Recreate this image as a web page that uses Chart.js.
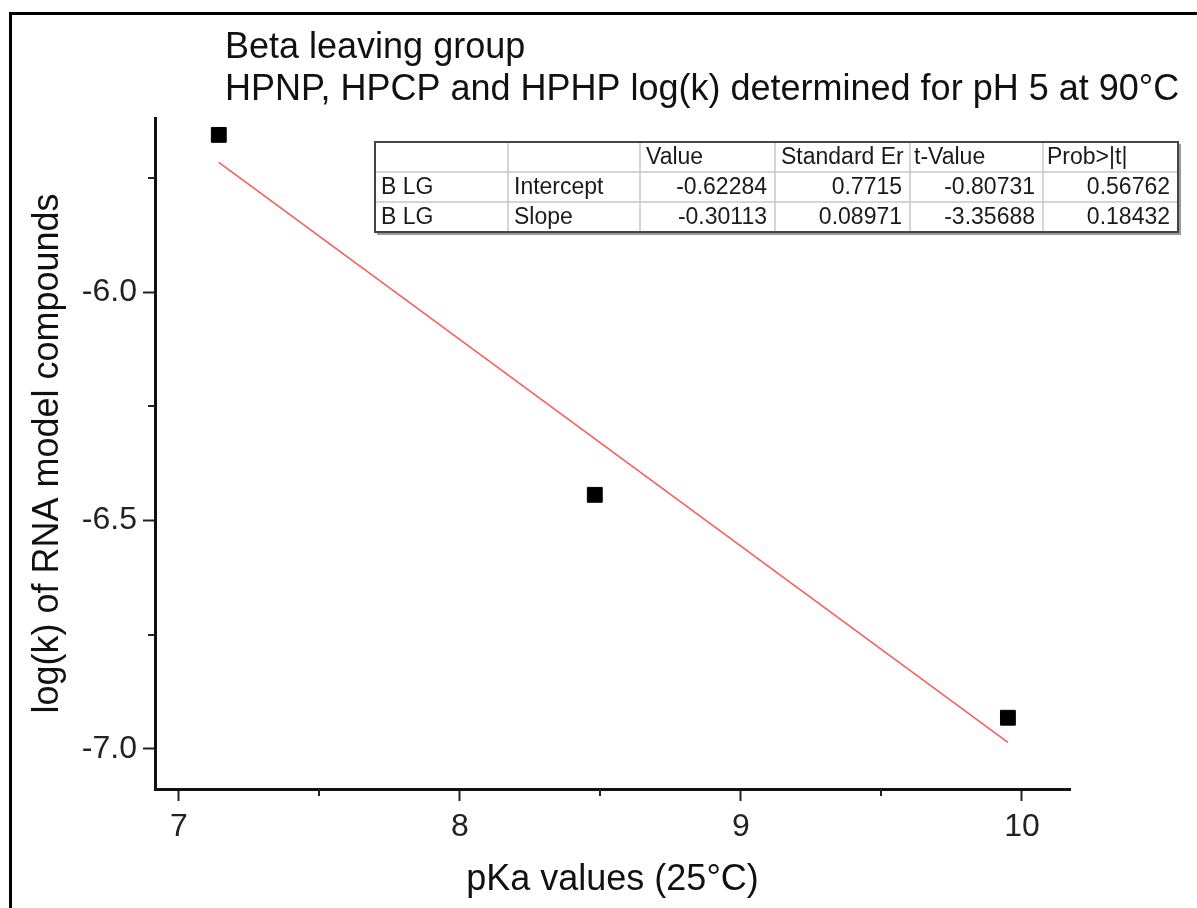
<!DOCTYPE html>
<html>
<head>
<meta charset="utf-8">
<title>Beta leaving group</title>
<script src="https://cdn.jsdelivr.net/npm/chart.js@4/dist/chart.umd.min.js"></script>
<style>
  html, body { margin: 0; padding: 0; background: #fff; }
  #wrap { position: relative; width: 1197px; height: 908px; overflow: hidden; }
  canvas { display: block; }
</style>
</head>
<body>
<div id="wrap"><canvas id="chart" width="1197" height="908"></canvas></div>
<script>
// Measured compounds: leaving-group pKa (25 °C) and log(k) at pH 5, 90 °C
const pkaValues = [7.142, 8.480, 9.950];
const logKValues = [-5.656, -6.444, -6.932];

// Linear fit line end points
const fitPka = [7.142, 9.950];
const fitLogK = [-5.716, -6.986];

// Axis ticks
const xTicks = [7, 8, 9, 10];
const xMinorTicks = [7.5, 8.5, 9.5];
const yTicks = [-7.0, -6.5, -6.0];
const yMinorTicks = [-6.75, -6.25, -5.75];

// Fit parameter table
const tableHeader = ['', '', 'Value', 'Standard Er', 't-Value', 'Prob>|t|'];
const tableRowIntercept = ['B LG', 'Intercept', '-0.62284', '0.7715', '-0.80731', '0.56762'];
const tableRowSlope = ['B LG', 'Slope', '-0.30113', '0.08971', '-3.35688', '0.18432'];

const titleLines = ['Beta leaving group', 'HPNP, HPCP and HPHP log(k) determined for pH 5 at 90°C'];
const xTitle = 'pKa values (25°C)';
const yTitle = 'log(k) of RNA model compounds';

const FONT = '"Liberation Sans", Arial, Helvetica, sans-serif';

const points = pkaValues.map((x, i) => ({ x, y: logKValues[i] }));
const fitPoints = fitPka.map((x, i) => ({ x, y: fitLogK[i] }));

// Page frame, titles, minor ticks and the statistics table
const decorations = {
  id: 'decorations',
  afterDraw(chart) {
    const ctx = chart.ctx;
    const xs = chart.scales.x, ys = chart.scales.y;
    const area = chart.chartArea;
    ctx.save();

    // frame around the figure
    ctx.strokeStyle = '#000';
    ctx.lineWidth = 3;
    ctx.beginPath();
    ctx.moveTo(10.5, 908);
    ctx.lineTo(10.5, 13.5);
    ctx.lineTo(1197, 13.5);
    ctx.stroke();

    // chart title
    ctx.fillStyle = '#111';
    ctx.font = '36px ' + FONT;
    ctx.textAlign = 'left';
    ctx.textBaseline = 'alphabetic';
    ctx.fillText(titleLines[0], 225, 58);
    ctx.fillText(titleLines[1], 225, 100);

    // axis titles
    ctx.textAlign = 'center';
    ctx.textBaseline = 'middle';
    ctx.fillText(xTitle, (area.left + area.right) / 2, 880);
    ctx.save();
    ctx.translate(48, (area.top + area.bottom) / 2);
    ctx.rotate(-Math.PI / 2);
    ctx.fillText(yTitle, 0, 0);
    ctx.restore();

    // minor ticks
    ctx.strokeStyle = '#222';
    ctx.lineWidth = 2;
    ctx.beginPath();
    xMinorTicks.forEach(v => {
      const px = Math.round(xs.getPixelForValue(v));
      ctx.moveTo(px, area.bottom);
      ctx.lineTo(px, area.bottom + 7);
    });
    yMinorTicks.forEach(v => {
      const py = Math.round(ys.getPixelForValue(v));
      ctx.moveTo(area.left, py);
      ctx.lineTo(area.left - 7, py);
    });
    ctx.stroke();

    // statistics table
    const cols = [375, 508, 640, 775, 910, 1043, 1178];
    const rowsY = [142, 172, 202, 232];
    const rows = [tableHeader, tableRowIntercept, tableRowSlope];
    ctx.fillStyle = '#fff';
    ctx.fillRect(cols[0], rowsY[0], cols[6] - cols[0], rowsY[3] - rowsY[0]);

    // inner grid
    ctx.strokeStyle = '#c8c8c8';
    ctx.lineWidth = 1.5;
    ctx.beginPath();
    for (let c = 1; c < cols.length - 1; c++) {
      ctx.moveTo(cols[c], rowsY[0]);
      ctx.lineTo(cols[c], rowsY[3]);
    }
    for (let r = 1; r < rowsY.length - 1; r++) {
      ctx.moveTo(cols[0], rowsY[r]);
      ctx.lineTo(cols[6], rowsY[r]);
    }
    ctx.stroke();

    // shadow and outer border
    ctx.strokeStyle = '#9a9a9a';
    ctx.lineWidth = 2;
    ctx.beginPath();
    ctx.moveTo(cols[0] + 2, rowsY[3] + 2);
    ctx.lineTo(cols[6] + 2, rowsY[3] + 2);
    ctx.lineTo(cols[6] + 2, rowsY[0] + 2);
    ctx.stroke();
    ctx.strokeStyle = '#444';
    ctx.lineWidth = 2;
    ctx.strokeRect(cols[0], rowsY[0], cols[6] - cols[0], rowsY[3] - rowsY[0]);

    ctx.font = '23px ' + FONT;
    ctx.fillStyle = '#1a1a1a';
    ctx.textBaseline = 'middle';
    rows.forEach((row, r) => {
      const cy = (rowsY[r] + rowsY[r + 1]) / 2 + 1;
      row.forEach((txt, c) => {
        if (!txt) return;
        ctx.save();
        ctx.beginPath();
        ctx.rect(cols[c] + 1, rowsY[r], cols[c + 1] - cols[c] - 2, rowsY[r + 1] - rowsY[r]);
        ctx.clip();
        if (r === 0 || c < 2) {
          ctx.textAlign = 'left';
          ctx.fillText(txt, cols[c] + (c >= 4 ? 4 : 6), cy);
        } else {
          ctx.textAlign = 'right';
          ctx.fillText(txt, cols[c + 1] - 8, cy);
        }
        ctx.restore();
      });
    });

    ctx.restore();
  }
};

new Chart(document.getElementById('chart'), {
  type: 'scatter',
  data: {
    datasets: [
      {
        label: 'Linear fit',
        type: 'line',
        data: fitPoints,
        borderColor: 'rgb(255, 90, 90)',
        borderWidth: 1.6,
        pointRadius: 0,
        fill: false,
        tension: 0,
        order: 2
      },
      {
        label: 'B LG',
        data: points,
        pointStyle: 'rect',
        pointRadius: 10.5,
        pointHoverRadius: 10.5,
        backgroundColor: '#000',
        borderColor: '#000',
        borderWidth: 1,
        order: 1
      }
    ]
  },
  options: {
    responsive: false,
    animation: false,
    devicePixelRatio: 1,
    layout: { padding: { top: 118, right: 127, left: 0, bottom: 0 } },
    plugins: {
      legend: { display: false },
      title: { display: false },
      tooltip: { enabled: false }
    },
    scales: {
      x: {
        type: 'linear',
        min: 6.915,
        max: 10.171,
        afterFit(scale) { scale.height = 119; },
        afterBuildTicks(scale) { scale.ticks = xTicks.map(v => ({ value: v })); },
        border: { display: true, color: '#111', width: 3 },
        grid: { display: true, drawOnChartArea: false, drawTicks: true, tickLength: 12, tickWidth: 2, tickColor: '#222' },
        ticks: {
          color: '#222',
          font: { family: FONT, size: 32 },
          padding: 7,
          maxRotation: 0,
          callback: v => String(v)
        },
        title: { display: false }
      },
      y: {
        type: 'linear',
        min: -7.088,
        max: -5.619,
        afterFit(scale) { scale.width = 155; },
        afterBuildTicks(scale) { scale.ticks = yTicks.map(v => ({ value: v })); },
        border: { display: true, color: '#111', width: 3 },
        grid: { display: true, drawOnChartArea: false, drawTicks: true, tickLength: 12, tickWidth: 2, tickColor: '#222' },
        ticks: {
          color: '#222',
          font: { family: FONT, size: 32 },
          padding: 6,
          callback: v => v.toFixed(1)
        },
        title: { display: false }
      }
    }
  },
  plugins: [decorations]
});
</script>
</body>
</html>
